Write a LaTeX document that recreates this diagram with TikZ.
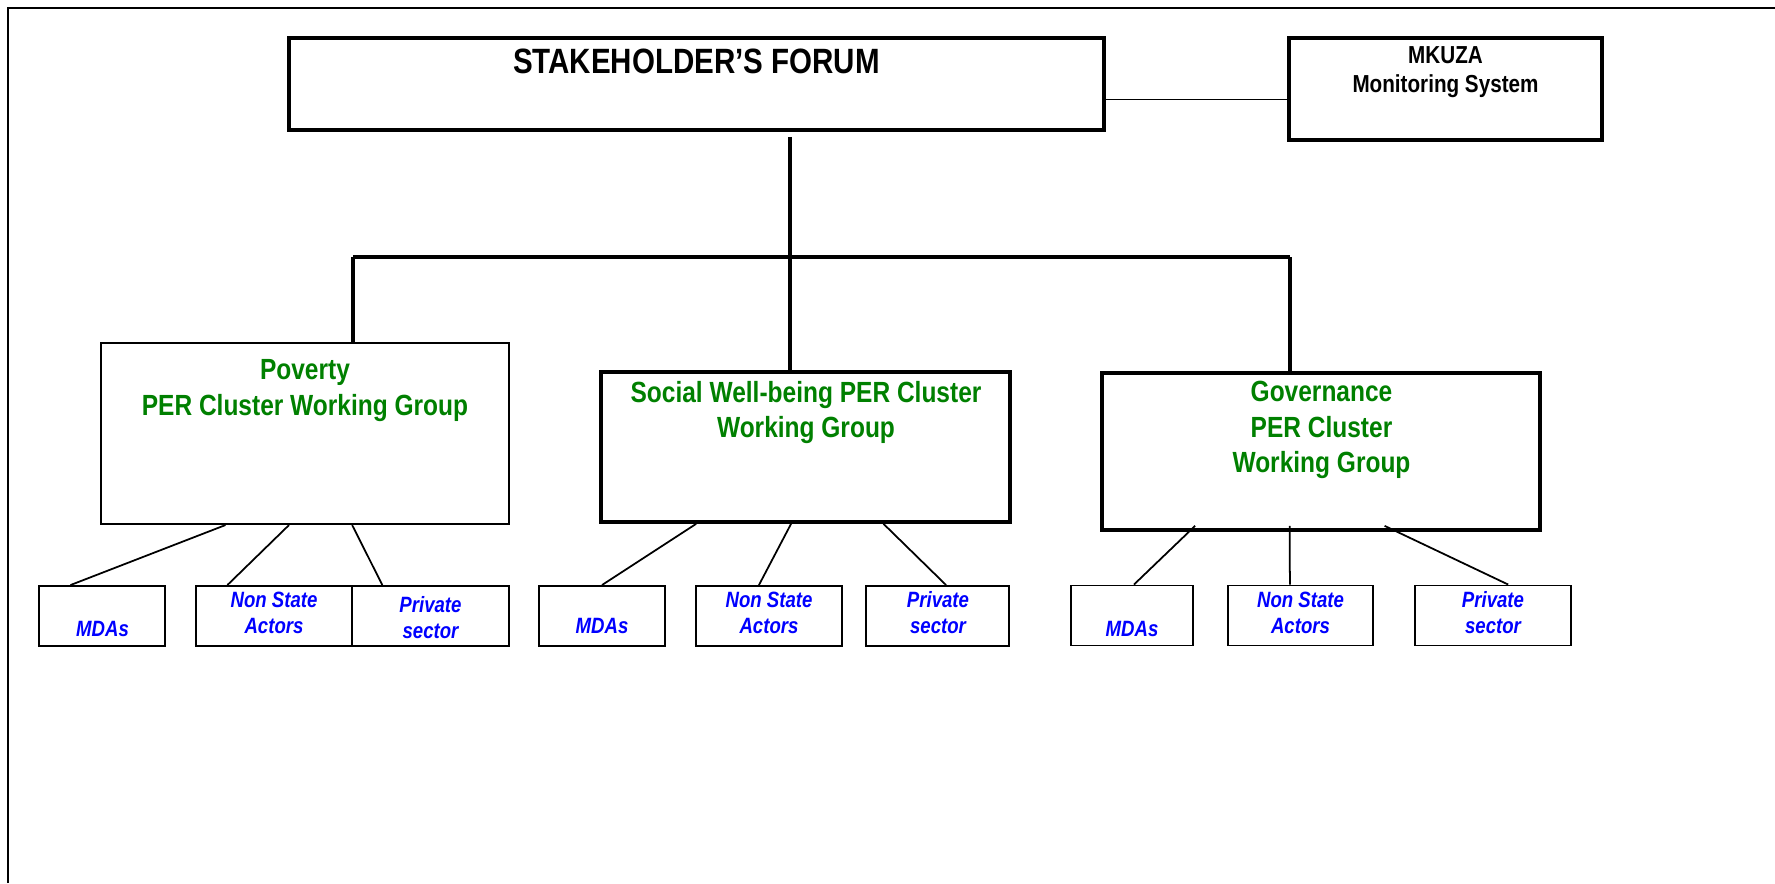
\documentclass[tikz,border=0pt]{standalone}
\usepackage{fontspec}
\setmainfont{Liberation Sans}[FakeStretch=0.84]
\usetikzlibrary{calc}
\definecolor{groupgreen}{RGB}{0,128,0}
\definecolor{actorblue}{RGB}{0,0,255}

\begin{document}
\begin{tikzpicture}[y=-1cm,
  bigbox/.style={draw, line width=1.05pt, inner sep=0pt},
  smallbox/.style={draw, line width=0.55pt, inner sep=0pt, minimum height=0.6cm},
  headtext/.style={inner sep=0pt, align=center, font=\bfseries\fontsize{10}{12}\selectfont},
  monitortext/.style={inner sep=0pt, align=center, font=\bfseries\fontsize{7}{8.25}\selectfont},
  clustertext/.style={inner sep=0pt, align=center, text=groupgreen, font=\bfseries\fontsize{8.3}{10}\selectfont},
  actortext/.style={inner sep=0pt, align=center, text=actorblue, font=\bfseries\itshape\fontsize{6.3}{7.4}\selectfont},
  trunk/.style={line width=1.05pt},
  twig/.style={line width=0.5pt}]

  \useasboundingbox (0,0) rectangle (17.75,8.83);
  % frame
  \draw[line width=0.6pt] (0.08,8.83) -- (0.08,0.08) -- (17.75,0.08);

  % top level
  \node[bigbox, minimum width=8.15cm, minimum height=0.92cm] (forum) at (6.965,0.84) {};
  \node[headtext] (forumT) at (6.965,0.617) {STAKEHOLDER’S FORUM};
  \node[bigbox, minimum width=3.13cm, minimum height=1.02cm] (mkuza) at (14.455,0.89) {};
  \node[monitortext] (mkuzaT) at (14.455,0.72) {MKUZA\\Monitoring System};

  % cluster working groups
  \node[draw, line width=0.6pt, inner sep=0pt, minimum width=4.08cm, minimum height=1.81cm] (pov) at (3.05,4.335) {};
  \node[clustertext] (povT) at (3.05,3.905) {Poverty\\PER Cluster Working Group};
  \node[bigbox, minimum width=4.09cm, minimum height=1.50cm] (social) at (8.055,4.47) {};
  \node[clustertext] (socialT) at (8.06,4.125) {Social Well-being PER Cluster\\Working Group};
  \node[bigbox, minimum width=4.38cm, minimum height=1.57cm] (gov) at (13.21,4.515) {};
  \node[clustertext] (govT) at (13.215,4.30) {Governance\\PER Cluster\\Working Group};

  % actors
  \node[smallbox, minimum width=1.26cm] (pmda) at (1.02,6.16) {};
  \node[smallbox, minimum width=1.56cm] (pnsa) at (2.74,6.16) {};
  \node[smallbox, minimum width=1.57cm] (ppriv) at (4.305,6.16) {};
  \node[smallbox, minimum width=1.26cm] (smda) at (6.02,6.16) {};
  \node[smallbox, minimum width=1.46cm] (snsa) at (7.69,6.16) {};
  \node[smallbox, minimum width=1.43cm] (spriv) at (9.375,6.16) {};
  \node[smallbox, minimum width=1.22cm] (gmda) at (11.32,6.155) {};
  \node[smallbox, minimum width=1.45cm] (gnsa) at (13.005,6.155) {};
  \node[smallbox, minimum width=1.56cm] (gpriv) at (14.93,6.155) {};

  \node[actortext] (pmdaT) at (1.026,6.29) {MDAs};
  \node[actortext] (pnsaT) at (2.74,6.125) {Non State\\Actors};
  \node[actortext] (pprivT) at (4.305,6.175) {Private\\sector};
  \node[actortext] (smdaT) at (6.02,6.255) {MDAs};
  \node[actortext] (snsaT) at (7.69,6.125) {Non State\\Actors};
  \node[actortext] (sprivT) at (9.38,6.125) {Private\\sector};
  \node[actortext] (gmdaT) at (11.32,6.285) {MDAs};
  \node[actortext] (gnsaT) at (13.005,6.125) {Non State\\Actors};
  \node[actortext] (gprivT) at (14.93,6.125) {Private\\sector};

  % links
  \draw[line width=0.45pt] ($(forum.north east)!0.66!(forum.south east)$) coordinate (fm) -- (fm -| mkuza.west);

  \coordinate (barL) at (3.53,2.57);
  \coordinate (barM) at (7.90,2.57);
  \coordinate (barR) at (12.90,2.57);
  \draw[trunk] (barL) -- (barR);
  \draw[trunk, shorten <=0.05cm] (barM |- forum.south) -- (barM |- social.north);
  \draw[trunk] (barL) -- (barL |- pov.north);
  \draw[trunk] (barR) -- (barR |- gov.north);

  \foreach \from/\f/\to/\t in {pov/0.306/pmda/0.254, pov/0.461/pnsa/0.205, pov/0.615/ppriv/0.197,
      social/0.235/smda/0.5, social/0.465/snsa/0.432, social/0.689/spriv/0.559}
    \draw[twig] ($(\from.south west)!\f!(\from.south east)$) -- ($(\to.north west)!\t!(\to.north east)$);
  \foreach \to/\f/\t in {gmda/0.215/0.516, gnsa/0.429/0.428, gpriv/0.644/0.596}
    \draw[twig] ($(gov.south west)!\f!(gov.south east) + (0,-0.06)$) -- ($(\to.north west)!\t!(\to.north east)$);
\end{tikzpicture}
\end{document}
